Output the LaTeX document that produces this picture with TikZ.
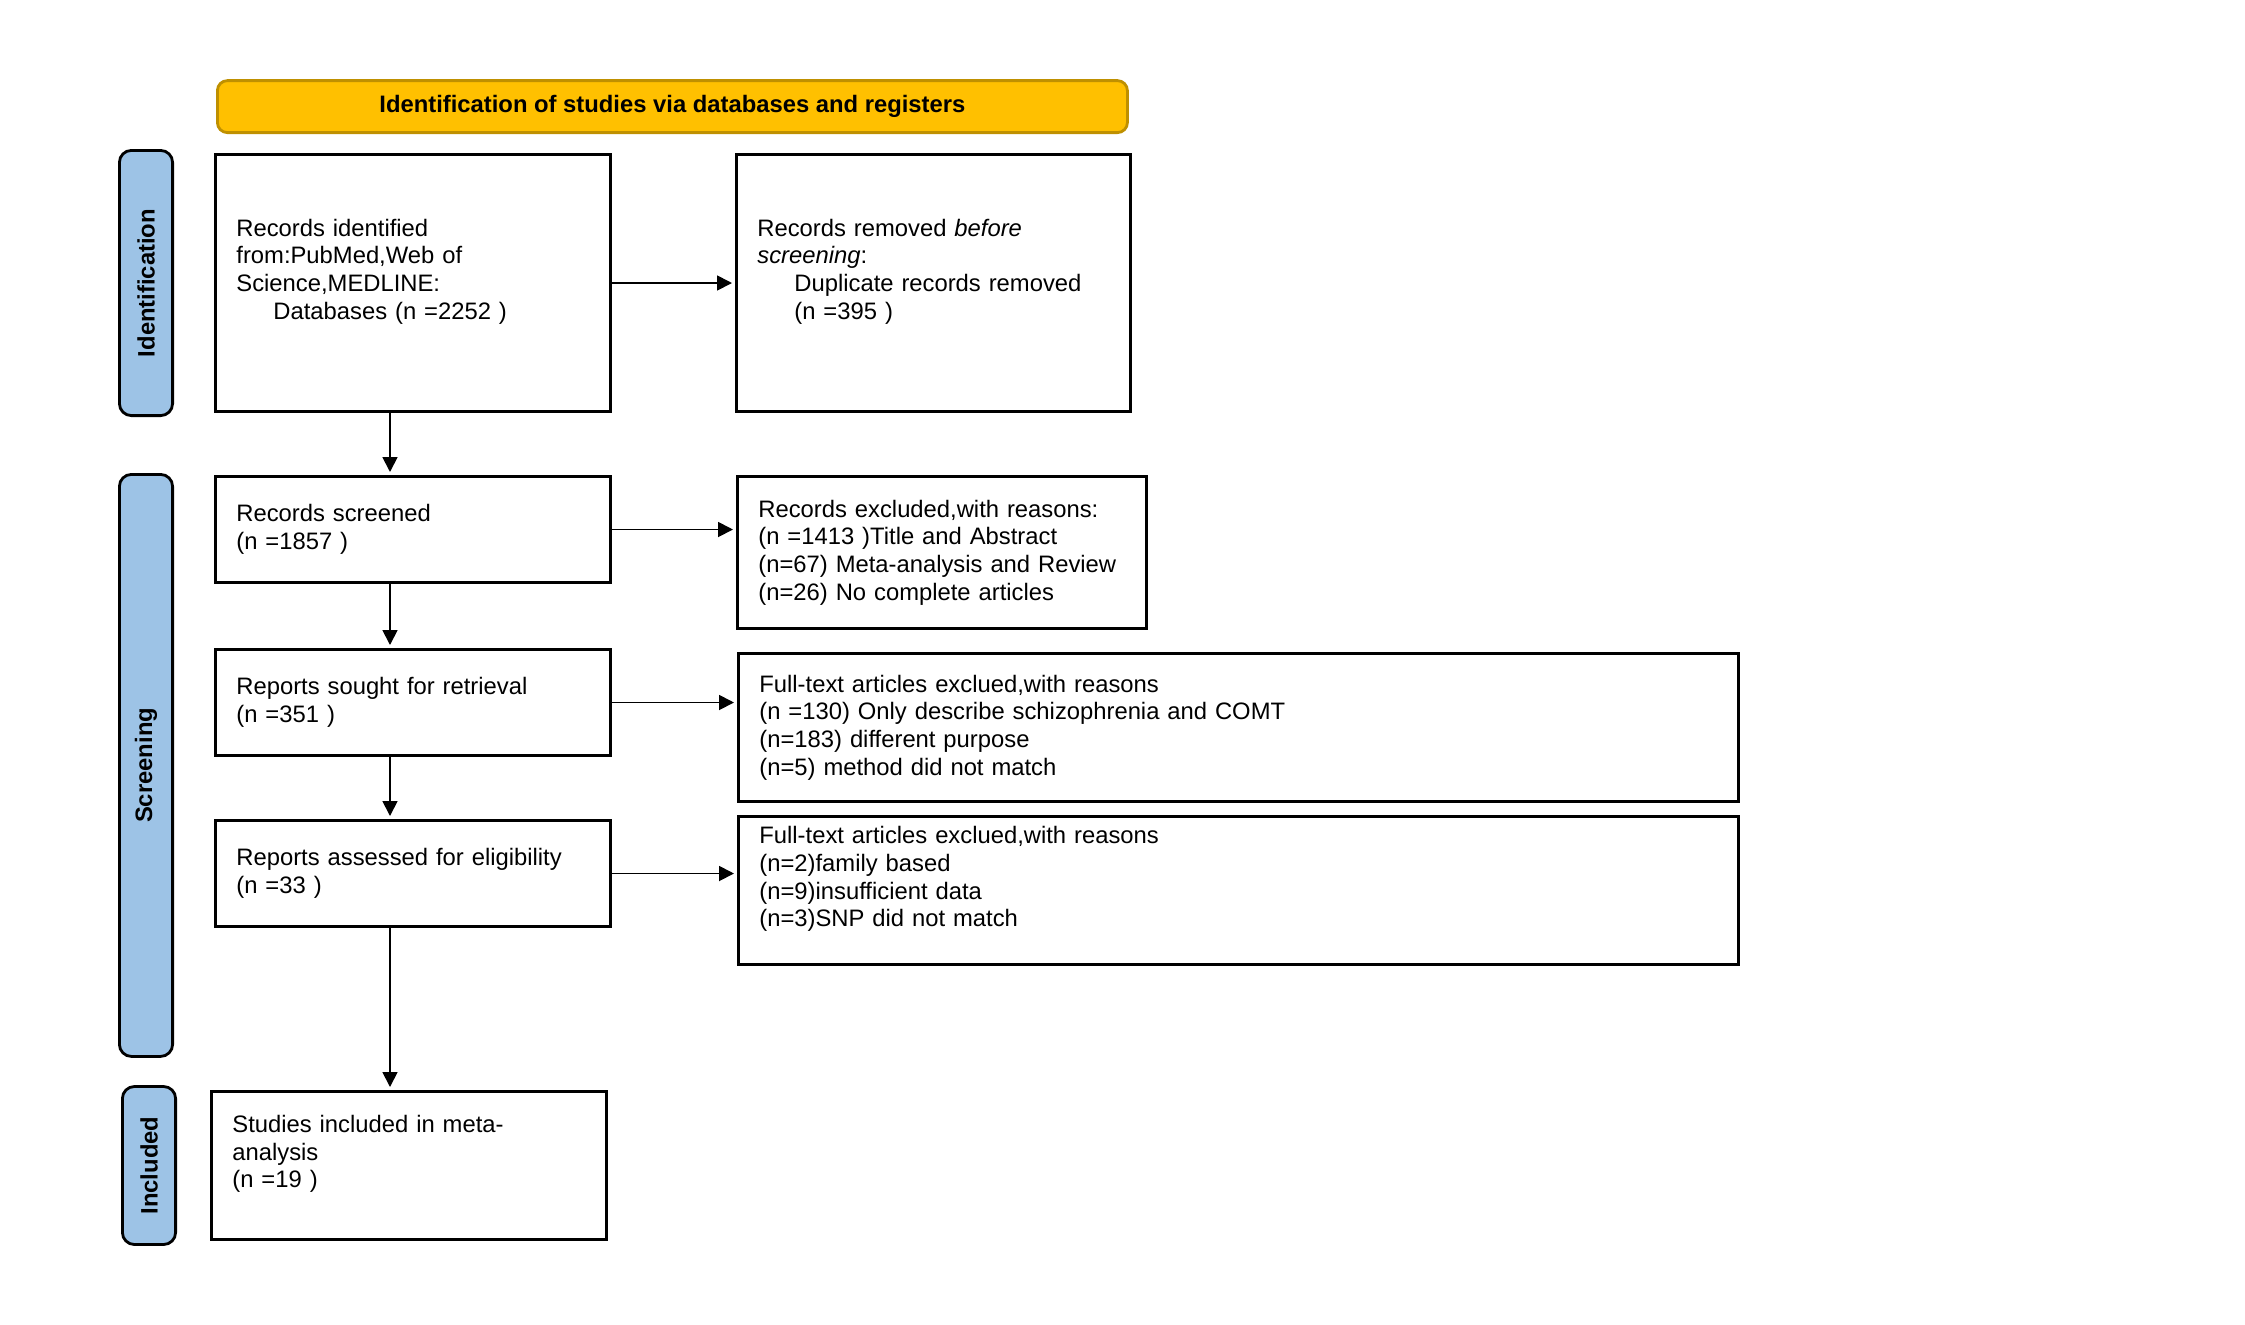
\documentclass[tikz,border=0pt]{standalone}
\usepackage{fontspec}
\setmainfont{Liberation Sans}
\usetikzlibrary{arrows.meta,positioning}
\definecolor{gold}{HTML}{FFC000}
\definecolor{golden}{HTML}{BF9000}
\definecolor{sky}{HTML}{9DC3E6}

\begin{document}
\begin{tikzpicture}[x=1pt,y=1pt,
 box/.style={draw,line width=1.4pt,align=left,font=\fontsize{11.9}{13.85}\selectfont,
 inner xsep=10.5pt,inner ysep=0pt,text width=176.6pt,minimum height=53.1pt},
 widebox/.style={box,text width=479.1pt,minimum height=74.1pt},
 banner/.style={draw=golden,fill=gold,line width=1.4pt,rounded corners=5pt,
 minimum width=455pt,minimum height=26pt,font=\fontsize{11.9}{13.85}\selectfont\bfseries},
 phase/.style={draw,line width=1.4pt,fill=sky,rounded corners=6pt,minimum width=26.6pt,
 inner sep=0pt,font=\fontsize{11.9}{13.85}\selectfont\bfseries},
 flow/.style={-{Triangle[length=7.5pt,width=7.5pt]},line width=0.9pt,shorten >=1.5pt}]
\useasboundingbox (0,0) rectangle (1122.5,-662);
\node[box,minimum height=128.6pt,anchor=north west] (ident) at (107,-76.5)
 {Records identified\\from:PubMed,Web of\\Science,MEDLINE:\\\hspace*{18.5pt}Databases (n =2252 )\\\mbox{}};
\node[banner,above right=9.5pt and 1pt of ident.north west] (head)
 {Identification of studies via databases and registers};
\node[box,text width=176.1pt,minimum height=128.6pt,right=61.5pt of ident] (removed)
 {Records removed \textit{before}\\\textit{screening}:\\\hspace*{18.5pt}Duplicate records removed\\\hspace*{18.5pt}(n =395 )\\\mbox{}};
\node[box,below=31pt of ident] (screened) {Records screened\\(n =1857 )};
\node[box,below=32pt of screened] (sought) {Reports sought for retrieval\\(n =351 )};
\node[box,below=31pt of sought] (assessed) {Reports assessed for eligibility\\(n =33 )};
\node[box,minimum height=74.1pt,below=81pt of assessed,xshift=-2pt] (included)
 {Studies included in meta-\\analysis\\(n =19 )\\\mbox{}};
\node[box,text width=183.6pt,minimum height=76.1pt,right=62pt of screened.north east,anchor=north west] (excluded)
 {Records excluded,with reasons:\\(n =1413 )Title and Abstract\\(n=67) Meta-analysis and Review\\(n=26) No complete articles};
\node[widebox,right=62.5pt of sought.north east,anchor=north west,yshift=-2pt] (fullA)
 {Full-text articles exclued,with reasons\\(n =130) Only describe schizophrenia and COMT\\(n=183) different purpose\\(n=5) method did not match};
\node[widebox,right=62.5pt of assessed.north east,anchor=north west,yshift=2pt] (fullB)
 {Full-text articles exclued,with reasons\\(n=2)family based\\(n=9)insufficient data\\(n=3)SNP did not match\\\mbox{}};
\node[phase,minimum height=132.6pt,left=20pt of ident] (idside) {\rotatebox{90}{Identification}};
\node[phase,minimum height=291pt,left=20pt of screened.north west,anchor=north east,yshift=1pt] (scrside)
 {\rotatebox{90}{Screening}};
\node[phase,minimum height=79pt,left=16.5pt of included] (incside) {\rotatebox{90}{Included}};
\draw[flow] (ident) -- (removed);
\draw[flow] (screened.east) -- (screened.east -| excluded.west);
\draw[flow] (sought.east) -- (sought.east -| fullA.west);
\draw[flow] (assessed.east) -- (assessed.east -| fullB.west);
\draw[flow] ([xshift=-11.5pt]ident.south) -- ([xshift=-11.5pt]screened.north);
\draw[flow] ([xshift=-11.5pt]screened.south) -- ([xshift=-11.5pt]sought.north);
\draw[flow] ([xshift=-11.5pt]sought.south) -- ([xshift=-11.5pt]assessed.north);
\draw[flow] ([xshift=-11.5pt]assessed.south) -- ([xshift=-11.5pt]assessed.south |- included.north);
\end{tikzpicture}
\end{document}
